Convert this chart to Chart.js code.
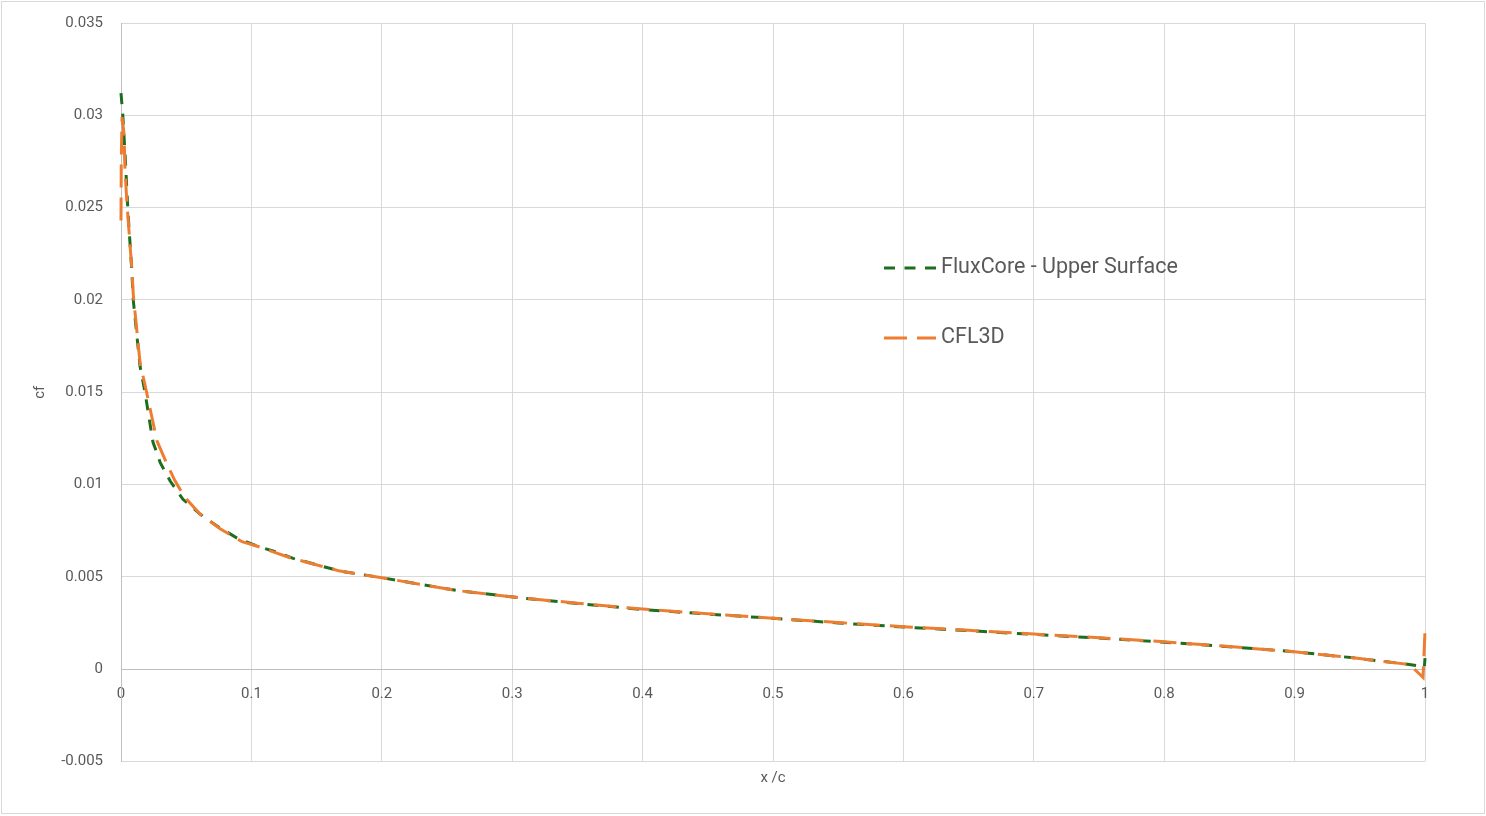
<!DOCTYPE html>
<html>
<head>
<meta charset="utf-8">
<script src="https://cdn.jsdelivr.net/npm/chart.js@4.4.0/dist/chart.umd.min.js"></script>
<style>
  html, body { margin: 0; padding: 0; background: #fff; }
  #wrap { width: 1486px; height: 816px; position: relative; }
</style>
</head>
<body>
<div id="wrap"><canvas id="cfChart"></canvas></div>
<script>
// axis ticks
const xTicks = [0, 0.1, 0.2, 0.3, 0.4, 0.5, 0.6, 0.7, 0.8, 0.9, 1];
const yTicks = [-0.005, 0, 0.005, 0.01, 0.015, 0.02, 0.025, 0.03, 0.035];

// FluxCore - Upper Surface
const fluxX = [0, 0.0013, 0.0031, 0.0054, 0.0082, 0.0094, 0.0146, 0.0184, 0.0245, 0.030,
  0.0376, 0.0475, 0.0606, 0.0736, 0.089, 0.104, 0.1166, 0.132, 0.168, 0.2,
  0.229, 0.2574, 0.301, 0.35, 0.4, 0.45, 0.5, 0.55, 0.6, 0.65,
  0.7, 0.75, 0.8, 0.85, 0.9, 0.945, 0.988, 0.9962, 0.9995, 1.0];
const fluxCf = [0.0312, 0.0301, 0.0279, 0.0247, 0.0217, 0.0200, 0.0164, 0.0150, 0.0123, 0.0112,
  0.0102, 0.0092, 0.0084, 0.00775, 0.0071, 0.00667, 0.0064, 0.0060, 0.00531, 0.00495,
  0.0046, 0.00426, 0.0039, 0.00355, 0.00323, 0.00298, 0.00275, 0.0025, 0.00228, 0.00208,
  0.00188, 0.00168, 0.00146, 0.00121, 0.00094, 0.00061, 0.00025, 0.00016, 0.0001, 0.0006];

// CFL3D
const cflX = [0, 0.0002, 0.0008, 0.0023, 0.003, 0.0044, 0.0069, 0.0084, 0.0094, 0.0146,
  0.019, 0.0276, 0.0353, 0.0414, 0.049, 0.0606, 0.076, 0.0928, 0.104, 0.1296,
  0.168, 0.2, 0.229, 0.2574, 0.301, 0.35, 0.4, 0.45, 0.5, 0.55,
  0.6, 0.65, 0.7, 0.75, 0.8, 0.85, 0.9, 0.945, 0.988, 0.9985, 1.0];
const cflCf = [0.0243, 0.0275, 0.0299, 0.029, 0.0272, 0.0254, 0.023, 0.0216, 0.0203, 0.0166,
  0.0152, 0.01236, 0.0111, 0.0102, 0.0093, 0.0084, 0.0076, 0.0069, 0.00667, 0.00603,
  0.00531, 0.00495, 0.0046, 0.00426, 0.0039, 0.00357, 0.00325, 0.003, 0.00276, 0.00252,
  0.0023, 0.0021, 0.0019, 0.0017, 0.00148, 0.00122, 0.00094, 0.00061, 0.00025, -0.00045, 0.00206];

const textColor = "#595959";
const gridColor = "#d9d9d9";
const axisColor = "#bfbfbf";
const fontFamily = "Roboto, 'Liberation Sans', sans-serif";

const toPoints = (xs, ys) => xs.map((x, i) => ({ x: x, y: ys[i] }));

// white background + thin frame round the whole chart
const framePlugin = {
  id: "frame",
  beforeDraw(chart) {
    const ctx = chart.ctx;
    ctx.save();
    ctx.fillStyle = "#ffffff";
    ctx.fillRect(0, 0, chart.width, chart.height);
    ctx.strokeStyle = gridColor;
    ctx.lineWidth = 1;
    ctx.strokeRect(1.5, 1.5, 1483, 812);
    ctx.restore();
  },
};

// legend sits inside the plot, right of centre
const legendPlugin = {
  id: "insideLegend",
  afterDraw(chart) {
    const ctx = chart.ctx;
    const rows = [268, 338];
    const entries = [chart.data.datasets[1], chart.data.datasets[0]];
    ctx.save();
    entries.forEach((ds, i) => {
      const y = rows[i];
      ctx.beginPath();
      ctx.setLineDash(ds.borderDash);
      ctx.strokeStyle = ds.borderColor;
      ctx.lineWidth = ds.borderWidth;
      ctx.moveTo(884, y);
      ctx.lineTo(936, y);
      ctx.stroke();
      ctx.setLineDash([]);
      ctx.fillStyle = textColor;
      ctx.font = "21.5px " + fontFamily;
      ctx.textBaseline = "middle";
      ctx.textAlign = "left";
      ctx.fillText(ds.label, 941, y);
    });
    ctx.restore();
  },
};

const chart = new Chart(document.getElementById("cfChart").getContext("2d"), {
  type: "line",
  data: {
    datasets: [
      {
        label: "CFL3D",
        data: toPoints(cflX, cflCf),
        borderColor: "#ED7D31",
        borderWidth: 3,
        borderDash: [23, 10],
        pointRadius: 0,
        tension: 0,
        clip: false,
        order: 0,
      },
      {
        label: "FluxCore - Upper Surface",
        data: toPoints(fluxX, fluxCf),
        borderColor: "#1f6e1f",
        borderWidth: 3,
        borderDash: [11, 9.5],
        pointRadius: 0,
        tension: 0,
        clip: false,
        order: 1,
      },
    ],
  },
  options: {
    responsive: true,
    maintainAspectRatio: false,
    animation: false,
    layout: {
      padding: { left: 0, right: 61, top: 23, bottom: 0 },
    },
    plugins: {
      legend: { display: false },
      tooltip: { enabled: false },
    },
    scales: {
      x: {
        type: "linear",
        min: 0,
        max: 1,
        position: { y: 0 },
        afterBuildTicks: (scale) => {
          scale.ticks = xTicks.map((v) => ({ value: v }));
        },
        ticks: {
          color: textColor,
          font: { family: fontFamily, size: 15 },
          padding: 16,
          maxRotation: 0,
          autoSkip: false,
          callback: (v) => String(v),
        },
        grid: { color: gridColor, drawTicks: false },
        border: { color: axisColor, width: 1 },
      },
      xt: {
        type: "linear",
        min: 0,
        max: 1,
        position: "bottom",
        grid: { display: false },
        border: { display: false },
        ticks: { display: false },
        title: {
          display: true,
          text: "x /c",
          color: textColor,
          font: { family: fontFamily, size: 15 },
          padding: { top: 0, bottom: 28.6 },
        },
      },
      y: {
        type: "linear",
        min: -0.005,
        max: 0.035,
        afterBuildTicks: (scale) => {
          scale.ticks = yTicks.map((v) => ({ value: v }));
        },
        afterFit: (scale) => {
          // fixed axis width, and don't let tick padding push the plot top down
          scale.width = 121;
          scale.paddingTop = 0;
          scale.paddingBottom = 0;
        },
        ticks: {
          color: textColor,
          font: { family: fontFamily, size: 15 },
          padding: 18,
          callback: (v) => String(v),
        },
        grid: { color: gridColor, drawTicks: false },
        border: { color: axisColor, width: 1 },
        title: {
          display: true,
          text: "cf",
          color: textColor,
          font: { family: fontFamily, size: 15 },
          padding: { top: 31.6, bottom: 0 },
        },
      },
    },
  },
  plugins: [framePlugin, legendPlugin],
});
</script>
</body>
</html>
